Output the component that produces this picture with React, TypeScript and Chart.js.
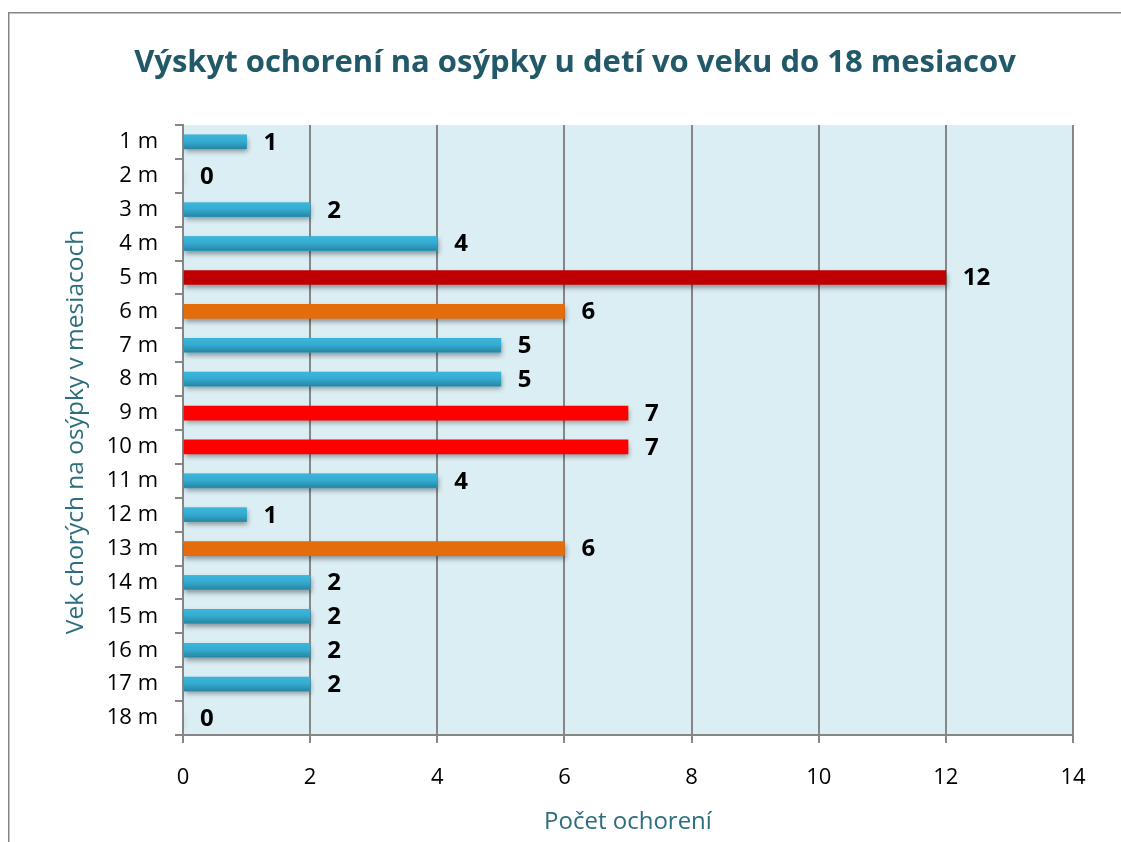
import React, { useEffect, useRef } from "react";
import { Chart, registerables } from "chart.js";

Chart.register(...registerables);

const categories = ["1 m", "2 m", "3 m", "4 m", "5 m", "6 m", "7 m", "8 m", "9 m", "10 m", "11 m", "12 m", "13 m", "14 m", "15 m", "16 m", "17 m", "18 m"];
const cases = [1, 0, 2, 4, 12, 6, 5, 5, 7, 7, 4, 1, 6, 2, 2, 2, 2, 0];
const BLUE = "#33a9cf";
const barColors = [BLUE, BLUE, BLUE, BLUE, "#c00000", "#e46c0a", BLUE, BLUE, "#ff0000", "#ff0000", BLUE, BLUE, "#e46c0a", BLUE, BLUE, BLUE, BLUE, BLUE];
const xTicks = [0, 2, 4, 6, 8, 10, 12, 14];

const chartTitle = "Výskyt ochorení na osýpky u detí vo veku do 18 mesiacov";
const yTitle = "Vek chorých na osýpky v mesiacoch";
const xTitle = "Počet ochorení";

const FONT = "'Open Sans', 'Noto Sans', sans-serif";
const GRID = "#868686";

const decorPlugin = {
  id: "decor",
  beforeDraw(chart: any) {
    const { ctx, chartArea } = chart;
    ctx.save();
    ctx.fillStyle = "#ffffff";
    ctx.fillRect(0, 0, chart.width, chart.height);
    ctx.fillStyle = "#dbeef4";
    ctx.fillRect(chartArea.left, chartArea.top, chartArea.right - chartArea.left, chartArea.bottom - chartArea.top);
    ctx.strokeStyle = GRID;
    ctx.lineWidth = 1.5;
    ctx.beginPath();
    ctx.moveTo(8.75, chart.height + 5);
    ctx.lineTo(8.75, 12.75);
    ctx.lineTo(chart.width + 5, 12.75);
    ctx.stroke();
    ctx.restore();
  },
  beforeDatasetsDraw(chart: any) {
    const { ctx } = chart;
    ctx.save();
    ctx.shadowColor = "rgba(0,0,0,0.38)";
    ctx.shadowBlur = 5;
    ctx.shadowOffsetX = 1;
    ctx.shadowOffsetY = 3;
  },
  afterDatasetsDraw(chart: any) {
    const { ctx } = chart;
    ctx.restore();
    const meta = chart.getDatasetMeta(0);
    ctx.save();
    meta.data.forEach((el: any, i: number) => {
      const v = cases[i];
      if (barColors[i] === BLUE && v > 0) {
        const h = el.height;
        const top = el.y - h / 2;
        const g = ctx.createLinearGradient(0, top, 0, top + h);
        g.addColorStop(0, "#3cb6dc");
        g.addColorStop(0.45, "#35acd2");
        g.addColorStop(1, "#2785a3");
        ctx.fillStyle = g;
        ctx.fillRect(Math.min(el.base, el.x), top, Math.abs(el.x - el.base), h);
      }
    });
    ctx.fillStyle = "#000000";
    ctx.font = `bold 24px ${FONT}`;
    ctx.textAlign = "left";
    ctx.textBaseline = "middle";
    meta.data.forEach((el: any, i: number) => {
      ctx.fillText(String(cases[i]), el.x + 17, el.y + 1);
    });
    ctx.restore();
  },
  afterDraw(chart: any) {
    const { ctx, chartArea } = chart;
    ctx.save();
    ctx.fillStyle = "#215968";
    ctx.font = `bold 31px ${FONT}`;
    ctx.textAlign = "center";
    ctx.textBaseline = "middle";
    ctx.fillText(chartTitle, 575, 63);

    ctx.fillStyle = "#2c6d7e";
    ctx.font = `24px ${FONT}`;
    ctx.fillText(xTitle, (chartArea.left + chartArea.right) / 2, 822);

    ctx.font = `24.5px ${FONT}`;
    ctx.translate(76, (chartArea.top + chartArea.bottom) / 2 + 2);
    ctx.rotate(-Math.PI / 2);
    ctx.fillText(yTitle, 0, 0);
    ctx.restore();
  },
};

export default function App() {
  const ref = useRef<HTMLCanvasElement | null>(null);
  useEffect(() => {
    if (!ref.current) return;
    const chart = new Chart(ref.current, {
      type: "bar",
      data: {
        labels: categories,
        datasets: [
          {
            data: cases,
            backgroundColor: barColors,
            borderWidth: 0,
            barThickness: 14,
          },
        ],
      },
      options: {
        indexAxis: "y",
        responsive: false,
        animation: false,
        devicePixelRatio: 1,
        layout: { padding: { top: 125, right: 48, bottom: 0, left: 0 } },
        plugins: {
          legend: { display: false },
          title: { display: false },
          tooltip: { enabled: false },
        },
        scales: {
          x: {
            min: 0,
            max: 14,
            afterFit(scale: any) {
              scale.height = 107;
            },
            afterBuildTicks(scale: any) {
              scale.ticks = xTicks.map((v) => ({ value: v }));
            },
            grid: { color: GRID, lineWidth: 2, tickLength: 8, drawTicks: true },
            border: { color: GRID, width: 2 },
            ticks: { color: "#000", font: { family: FONT, size: 22 }, padding: 22, maxRotation: 0 },
          },
          y: {
            afterFit(scale: any) {
              scale.width = 183;
            },
            grid: { color: GRID, lineWidth: 2, tickLength: 8, drawOnChartArea: false, offset: true },
            border: { color: GRID, width: 2 },
            ticks: { color: "#000", font: { family: FONT, size: 22 }, padding: 17, autoSkip: false },
          },
        },
      },
      plugins: [decorPlugin],
    });
    return () => chart.destroy();
  }, []);
  return (
    <div style={{ position: "fixed", left: 0, top: 0, width: 1121, height: 842, background: "#fff" }}>
      <canvas ref={ref} width={1121} height={842} style={{ width: 1121, height: 842, display: "block" }} />
    </div>
  );
}
